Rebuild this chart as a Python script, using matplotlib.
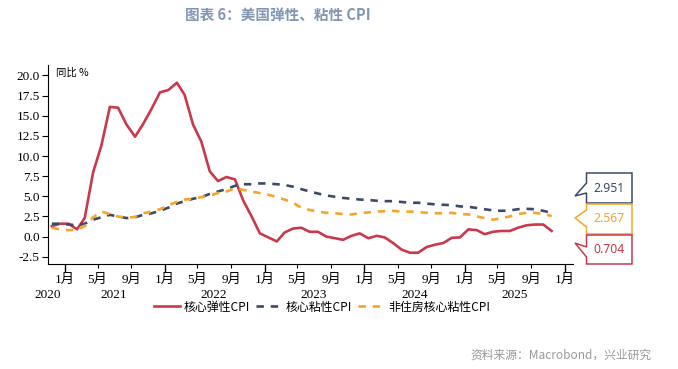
import numpy as np
import pandas as pd
import matplotlib
matplotlib.use("Agg")
import matplotlib.pyplot as plt
import matplotlib.dates as mdates
from matplotlib.patches import Polygon

# monthly, Nov 2020 - Nov 2025 (YoY %)
months = pd.date_range("2020-11-01", "2025-11-01", freq="MS")
flexible = [1.3, 1.6,
            1.6, 0.9, 2.3, 8.0, 11.3, 16.1, 16.0, 13.9, 12.4, 14.0, 15.9, 17.9,
            18.2, 19.1, 17.6, 13.9, 11.8, 8.1, 6.9, 7.4, 7.1, 4.5, 2.5, 0.4,
            -0.1, -0.6, 0.5, 1.0, 1.1, 0.6, 0.6, 0.0, -0.2, -0.4, 0.1, 0.4,
            -0.2, 0.1, -0.1, -0.8, -1.6, -2.0, -2.0, -1.3, -1.0, -0.8, -0.15, -0.1,
            0.9, 0.8, 0.3, 0.6, 0.7, 0.7, 1.1, 1.4, 1.5, 1.5, 0.704]
sticky = [1.6, 1.6,
          1.5, 1.4, 1.6, 2.1, 2.4, 2.7, 2.5, 2.3, 2.4, 2.7, 2.9, 3.2,
          3.6, 4.1, 4.4, 4.7, 4.9, 5.3, 5.6, 5.9, 6.3, 6.5, 6.5, 6.6,
          6.6, 6.5, 6.4, 6.2, 5.9, 5.6, 5.35, 5.1, 4.95, 4.8, 4.7, 4.6,
          4.55, 4.45, 4.4, 4.4, 4.3, 4.2, 4.2, 4.1, 4.0, 3.95, 3.9, 3.75,
          3.7, 3.55, 3.4, 3.25, 3.2, 3.25, 3.4, 3.45, 3.4, 3.2, 2.951]
sticky_ex_shelter = [1.1, 0.9,
                     0.8, 0.85, 1.3, 2.4, 3.1, 2.8, 2.5, 2.35, 2.45, 2.9, 3.1, 3.4,
                     3.9, 4.3, 4.6, 4.7, 4.9, 5.1, 5.4, 5.6, 6.0, 5.8, 5.6, 5.4,
                     5.2, 4.9, 4.6, 4.2, 3.6, 3.3, 3.1, 2.95, 2.9, 2.8, 2.75, 2.9,
                     3.0, 3.1, 3.15, 3.2, 3.1, 3.1, 3.05, 2.95, 2.9, 2.9, 2.95, 2.8,
                     2.75, 2.5, 2.3, 2.1, 2.3, 2.5, 2.8, 2.95, 2.95, 2.8, 2.567]
labels = ["核心弹性CPI", "核心粘性CPI", "非住房核心粘性CPI"]
years = [2020, 2021, 2022, 2023, 2024, 2025]

RED = "#C9394B"
BLUE = "#3C4A68"
ORANGE = "#F5A52A"

W, H = 678, 369
fig = plt.figure(figsize=(W / 100, H / 100), dpi=100)
ax = fig.add_axes([48 / W, 1 - 264 / H, (573 - 48) / W, (264 - 65) / H])

x = months + pd.Timedelta(days=14)
ax.plot(x, flexible, color=RED, lw=1.9, label=labels[0])
ax.plot(x, sticky, color=BLUE, lw=1.9, dashes=(2.8, 2.6), label=labels[1])
ax.plot(x, sticky_ex_shelter, color=ORANGE, lw=1.9, dashes=(2.8, 2.6), label=labels[2])

ax.set_xlim(pd.Timestamp("2020-11-01"), pd.Timestamp("2026-02-01"))
ax.set_ylim(-3.4, 21.3)
ax.set_yticks(np.arange(-2.5, 20.1, 2.5))
ax.yaxis.set_major_formatter(matplotlib.ticker.FormatStrFormatter("%.1f"))

ax.xaxis.set_major_locator(mdates.MonthLocator(bymonth=[1]))
ax.xaxis.set_minor_locator(mdates.MonthLocator(bymonth=[5, 9]))
fmt = matplotlib.ticker.FuncFormatter(lambda v, p: f"{mdates.num2date(v).month}月")
ax.xaxis.set_major_formatter(fmt)
ax.xaxis.set_minor_formatter(fmt)
tick_font = ["Liberation Serif", "Noto Sans CJK SC"]
for lab in ax.get_xticklabels(which="both") + ax.get_yticklabels():
    lab.set_family(tick_font)
    lab.set_fontsize(9.5)
ax.tick_params(axis="x", which="major", length=6, width=1, pad=1)
ax.tick_params(axis="x", which="minor", length=3, width=0.8, pad=4)
ax.tick_params(axis="y", length=4, width=0.8, pad=2)
for s in ["top", "right"]:
    ax.spines[s].set_visible(False)

# year labels under month labels
for yr in years:
    pos = pd.Timestamp(f"{yr}-07-01")
    if yr == 2020:
        pos = pd.Timestamp("2020-11-01")
    ax.text(pos, -0.155, str(yr), transform=ax.get_xaxis_transform(),
            ha="center", va="center", fontsize=9.5, family=tick_font)

ax.text(0.015, 0.985, "同比 %", transform=ax.transAxes, ha="left", va="top",
        fontsize=7.5, family=["Noto Sans CJK SC"])

fig.text(278 / W, 1 - 15 / H, "图表 6：美国弹性、粘性 CPI", ha="center", va="center",
         fontsize=10.5, fontweight="bold", color="#8296B1", family=["Noto Sans CJK SC"])
fig.text(652 / W, 1 - 355 / H, "资料来源：Macrobond，兴业研究", ha="right", va="center",
         fontsize=8.5, color="#999999", family=["Noto Sans CJK SC"])

fig.legend(loc="center", bbox_to_anchor=(322 / W, 1 - 307 / H), ncol=3, frameon=False,
           prop={"family": ["Noto Sans CJK SC"], "size": 8.6},
           handlelength=2.2, handletextpad=0.3, columnspacing=0.5)


# callout boxes with last values
def px(pts):
    return [(a / W, 1 - b / H) for a, b in pts]


L, R = 586.5, 632
boxes = [
    (sticky[-1], BLUE, 173, 203, (183, 193), (575, 196)),
    (sticky_ex_shelter[-1], ORANGE, 204, 234, (210, 227), (575, 218)),
    (flexible[-1], RED, 235, 264, (247, 257), (575, 243)),
]
for val, col, top, bot, base, tip in boxes:
    shape = [(L, top), (R, top), (R, bot), (L, bot), (L, base[1]), tip, (L, base[0])]
    fig.patches.append(Polygon(px(shape), closed=True, transform=fig.transFigure,
                               facecolor="white", edgecolor=col, lw=1.1))
    fig.text(609 / W, 1 - (top + bot) / 2 / H, f"{val:.3f}", ha="center", va="center",
             fontsize=8.8, color=col, family=["Noto Sans"])

fig.savefig("out.png", dpi=100)
